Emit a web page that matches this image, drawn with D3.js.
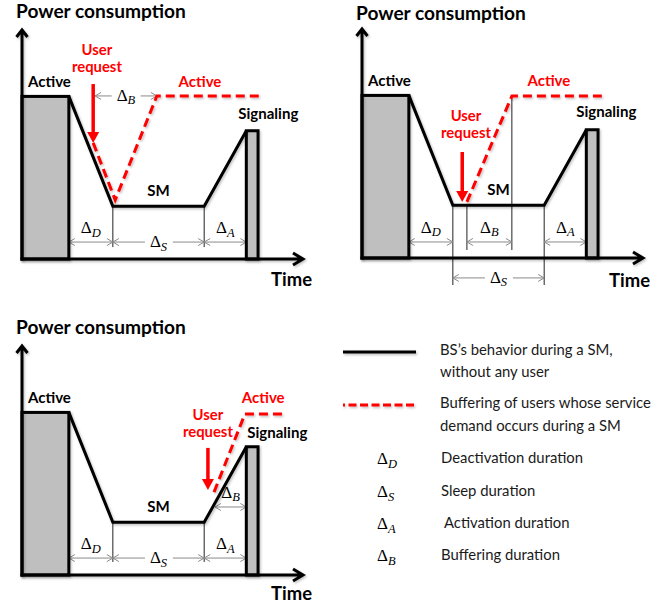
<!DOCTYPE html>
<html><head><meta charset="utf-8">
<script src="https://cdn.jsdelivr.net/npm/d3@7"></script>
<style>html,body{margin:0;padding:0;background:#fff;} svg{display:block}</style>
</head><body><svg id="c" width="670" height="610"></svg>
<script>
// ---------------- DATA (time units / power units) ----------------
const panelNames = ["User arrives during deactivation", "User arrives during SM", "User arrives during activation"];
// Baseline BS behaviour (shared by the three panels)
const phaseNames = ["Active", "Deactivation", "SM", "Activation", "Signaling"];
const phaseStart = [0, 1.0, 1.94, 3.89, 4.79];
const phaseEnd   = [1.0, 1.94, 3.89, 4.79, 5.04];
const levelNames  = ["Active", "SM", "Signaling"];
const levelValues = [7.1, 2.3, 5.6];
// Buffered user (red dashed) per panel
const bufferTimes = [[1.52, 1.99, 2.88, 5.08], [2.24, 3.2, 5.12], [4.10, 4.76, 5.57]];
const bufferPower = [[5.07, 2.58, 7.12, 7.12], [2.45, 7.07, 7.07], [3.62, 7.03, 7.03]];
// User request arrows
const requestTime  = [1.52, 2.14, 3.97];
const requestFrom  = [7.64, 4.63, 5.55];
const requestTo    = [5.07, 2.45, 3.71];
// Duration annotations per panel
const dimSymbols = [["D", "S", "A", "B"], ["D", "B", "A", "S"], ["D", "S", "A", "B"]];
const dimStart   = [[1.0, 1.94, 3.89, 1.56], [1.0, 2.24, 3.89, 1.94], [1.0, 1.94, 3.89, 4.12]];
const dimEnd     = [[1.94, 3.89, 4.79, 2.88], [1.94, 3.2, 4.79, 3.89], [1.94, 3.89, 4.79, 4.79]];
const dimLevel   = [[0.74, 0.74, 0.74, 7.12], [0.7, 0.7, 0.7, -0.87], [0.74, 0.74, 0.74, 2.97]];
const dimInline  = [[false, true, false, true], [false, false, false, true], [false, true, false, false]];
// Thin vertical guide lines per panel: [time, fromPower, toPower]
const guideLines = [
  [[1.94, 2.3, 0.52], [3.89, 2.3, 0.52]],
  [[1.94, 2.3, -1.18], [3.89, 2.3, -1.18], [2.24, 2.3, 0.35], [3.2, 7.07, 0.35]],
  [[1.94, 2.3, 0.57], [3.89, 2.3, 0.57]]
];
// Text
const axisTitle = "Power consumption";
const axisTime = "Time";
const requestText = ["User", "request"];
const legendTexts = [["BS\u2019s behavior during a SM,", "without any user"], ["Buffering of users whose service", "demand occurs during a SM"]];
const durationSymbols = ["D", "S", "A", "B"];
const durationLabels = ["Deactivation duration", "Sleep duration", "Activation duration", "Buffering duration"];

// ---------------- LAYOUT ----------------
const panelOrigin = [[22, 259], [362, 258], [22, 575]];
const titlePos = [[16, 18], [356, 20], [16, 334]];
const timePos = [[312, 286], [650, 287], [312, 600]];
const redActiveT = [3.8, 3.99, 5.15];
const requestLabelT = [1.6, 2.22, 3.97];
const requestLabelP = [8.91, 5.98, 6.77];
const sigDx = [-8, -10, 1], sigDy = [-12, -13, -9];

const svg = d3.select("#c");
const FONT = "Lato, 'Open Sans', sans-serif";
const SERIF = "'Liberation Serif', 'DejaVu Serif', serif";
const RED = "#ff0000";

svg.append("rect").attr("width", 670).attr("height", 610).attr("fill", "#fff");
const defs = svg.append("defs");
const f = defs.append("filter").attr("id", "sh").attr("filterUnits", "userSpaceOnUse")
  .attr("x", 0).attr("y", 0).attr("width", 670).attr("height", 610);
f.append("feDropShadow").attr("dx", 1.2).attr("dy", 1.5).attr("stdDeviation", 1)
  .attr("flood-color", "#000").attr("flood-opacity", 0.25);

function fit(text, weight, target) {
  const t = svg.append("text").attr("font-family", FONT).attr("font-weight", weight)
    .attr("font-size", 100).text(text);
  const w = t.node().getComputedTextLength();
  t.remove();
  return 100 * target / w;
}
const titleSize = fit(axisTitle, "bold", 170);
const timeSize = fit(axisTime, "bold", 41);
const labelSize = fit("Signaling", "bold", 60);
const redSize = fit("request", "bold", 50);
const legendSize = fit(legendTexts[1][0], "normal", 211);

function deltaText(g, x, y, sym, anchor, big, small) {
  const t = g.append("text").attr("x", x).attr("y", y).attr("text-anchor", anchor)
    .attr("font-family", SERIF).attr("fill", "#000");
  t.append("tspan").attr("font-size", big).text("\u0394");
  t.append("tspan").attr("font-size", small).attr("font-style", "italic").attr("dy", 3.5).text(sym);
  return t;
}

function dimArrow(g, x0, x1, yy, sym, inline) {
  const c = "#8a8a8a", h = 6, w = 3.5;
  g.append("line").attr("x1", x0).attr("x2", x1).attr("y1", yy).attr("y2", yy)
    .attr("stroke", c).attr("stroke-width", 1);
  g.append("path").attr("d", `M${x0 + h},${yy - w}L${x0},${yy}L${x0 + h},${yy + w}`)
    .attr("fill", "none").attr("stroke", c).attr("stroke-width", 1);
  g.append("path").attr("d", `M${x1 - h},${yy - w}L${x1},${yy}L${x1 - h},${yy + w}`)
    .attr("fill", "none").attr("stroke", c).attr("stroke-width", 1);
  const t = deltaText(g, (x0 + x1) / 2, inline ? yy + 5 : yy - 9, sym, "middle", 17, 12.5);
  if (inline) {
    const b = t.node().getBBox();
    g.insert("rect", () => t.node()).attr("x", b.x - 5).attr("y", yy - 3)
      .attr("width", b.width + 10).attr("height", 6).attr("fill", "#fff");
  }
}

panelNames.forEach((name, i) => {
  const [ox, oy] = panelOrigin[i];
  const x = d3.scaleLinear().domain([0, 6]).range([ox, ox + 281]);
  const y = d3.scaleLinear().domain([0, 10]).range([oy, oy - 229]);
  const g = svg.append("g").attr("class", "panel").attr("data-name", name);
  const lvl = n => levelValues[levelNames.indexOf(n)];

  // guide lines
  guideLines[i].forEach(([t, p0, p1]) => {
    g.append("line").attr("x1", x(t)).attr("x2", x(t)).attr("y1", y(p0)).attr("y2", y(p1))
      .attr("stroke", "#222").attr("stroke-width", 1);
  });
  // duration arrows
  dimSymbols[i].forEach((s, k) => {
    dimArrow(g, x(dimStart[i][k]), x(dimEnd[i][k]), y(dimLevel[i][k]), s, dimInline[i][k]);
  });

  // active and signaling blocks
  const blocks = [["Active", "Active"], ["Signaling", "Signaling"]];
  blocks.forEach(([ph, lv]) => {
    const k = phaseNames.indexOf(ph);
    g.append("rect").attr("x", x(phaseStart[k])).attr("y", y(lvl(lv)))
      .attr("width", x(phaseEnd[k]) - x(phaseStart[k])).attr("height", y(0) - y(lvl(lv)))
      .attr("fill", "#bfbfbf").attr("stroke", "#000").attr("stroke-width", 3)
      .attr("filter", "url(#sh)");
  });

  // baseline behaviour line
  const base = [
    [phaseEnd[0], lvl("Active")],
    [phaseEnd[1], lvl("SM")],
    [phaseEnd[2], lvl("SM")],
    [phaseEnd[3], lvl("Signaling")]
  ];
  const line = d3.line().x(d => x(d[0])).y(d => y(d[1]));
  g.append("path").attr("d", line(base)).attr("fill", "none").attr("stroke", "#000")
    .attr("stroke-width", 3).attr("stroke-linejoin", "miter").attr("filter", "url(#sh)");

  // axes
  const top = y(10), right = x(6);
  g.append("path").attr("d", `M${ox},${oy + 1.5}V${top}M${ox - 5.5},${top + 7}L${ox},${top}L${ox + 5.5},${top + 7}`)
    .attr("fill", "none").attr("stroke", "#000").attr("stroke-width", 3).attr("filter", "url(#sh)");
  g.append("path").attr("d", `M${ox - 1.5},${oy}H${right}M${right - 10},${oy - 6}L${right},${oy}L${right - 10},${oy + 6}`)
    .attr("fill", "none").attr("stroke", "#000").attr("stroke-width", 3).attr("filter", "url(#sh)");

  // buffered user (red dashed)
  const red = bufferTimes[i].map((t, k) => [t, bufferPower[i][k]]);
  g.append("path").attr("d", line(red)).attr("fill", "none").attr("stroke", RED)
    .attr("stroke-width", 3).attr("stroke-dasharray", "9,5").attr("filter", "url(#sh)");

  // user request arrow
  const ax = x(requestTime[i]), ay0 = y(requestFrom[i]), ay1 = y(requestTo[i]);
  g.append("line").attr("x1", ax).attr("x2", ax).attr("y1", ay0).attr("y2", ay1 - 8)
    .attr("stroke", RED).attr("stroke-width", 3.5);
  g.append("path").attr("d", `M${ax - 6},${ay1 - 11}L${ax + 6},${ay1 - 11}L${ax},${ay1}Z`).attr("fill", RED);

  // labels
  g.append("text").attr("x", titlePos[i][0]).attr("y", titlePos[i][1]).attr("font-family", FONT)
    .attr("font-weight", "bold").attr("font-size", titleSize).attr("fill", "#000").text(axisTitle);
  g.append("text").attr("x", timePos[i][0]).attr("y", timePos[i][1]).attr("text-anchor", "end")
    .attr("font-family", FONT).attr("font-weight", "bold").attr("font-size", timeSize).attr("fill", "#000").text(axisTime);
  g.append("text").attr("x", ox + 6).attr("y", y(lvl("Active")) - 9).attr("font-family", FONT)
    .attr("font-weight", "bold").attr("font-size", labelSize).attr("fill", "#000").text(levelNames[0]);
  g.append("text").attr("x", x(phaseStart[4]) + sigDx[i]).attr("y", y(lvl("Signaling")) + sigDy[i])
    .attr("font-family", FONT).attr("font-weight", "bold").attr("font-size", labelSize).attr("fill", "#000").text(levelNames[2]);
  g.append("text").attr("x", (x(phaseStart[2]) + x(phaseEnd[2])) / 2).attr("y", y(lvl("SM")) - 10)
    .attr("text-anchor", "middle").attr("font-family", FONT).attr("font-weight", "bold")
    .attr("font-size", labelSize).attr("fill", "#000").text(levelNames[1]);
  g.append("text").attr("x", x(redActiveT[i])).attr("y", y(lvl("Active")) - 9).attr("text-anchor", "middle")
    .attr("font-family", FONT).attr("font-weight", "bold").attr("font-size", labelSize).attr("fill", RED).text(levelNames[0]);
  requestText.forEach((s, k) => {
    g.append("text").attr("x", x(requestLabelT[i])).attr("y", y(requestLabelP[i]) + k * 17)
      .attr("text-anchor", "middle").attr("font-family", FONT).attr("font-weight", "bold")
      .attr("font-size", redSize).attr("fill", RED).text(s);
  });
});

// ---------------- LEGEND ----------------
const lg = svg.append("g").attr("class", "legend");
lg.append("line").attr("x1", 343).attr("x2", 416).attr("y1", 352).attr("y2", 352)
  .attr("stroke", "#000").attr("stroke-width", 3).attr("filter", "url(#sh)");
lg.append("line").attr("x1", 343).attr("x2", 416).attr("y1", 405).attr("y2", 405)
  .attr("stroke", RED).attr("stroke-width", 3).attr("stroke-dasharray", "8,3.5")
  .attr("stroke-dashoffset", 6).attr("filter", "url(#sh)");
const legendY = [[355, 377], [408, 431]];
legendTexts.forEach((lines, k) => {
  lines.forEach((s, j) => {
    lg.append("text").attr("x", 440).attr("y", legendY[k][j]).attr("font-family", FONT)
      .attr("font-size", legendSize).attr("fill", "#1a1a1a").text(s);
  });
});
const durY = [463, 496, 528, 560];
const durX = [441, 441, 444, 441];
durationSymbols.forEach((s, k) => {
  deltaText(lg, 377, durY[k] + 1, s, "start", 17, 12.5);
  lg.append("text").attr("x", durX[k]).attr("y", durY[k]).attr("font-family", FONT)
    .attr("font-size", legendSize).attr("fill", "#1a1a1a").text(durationLabels[k]);
});
</script></body></html>
